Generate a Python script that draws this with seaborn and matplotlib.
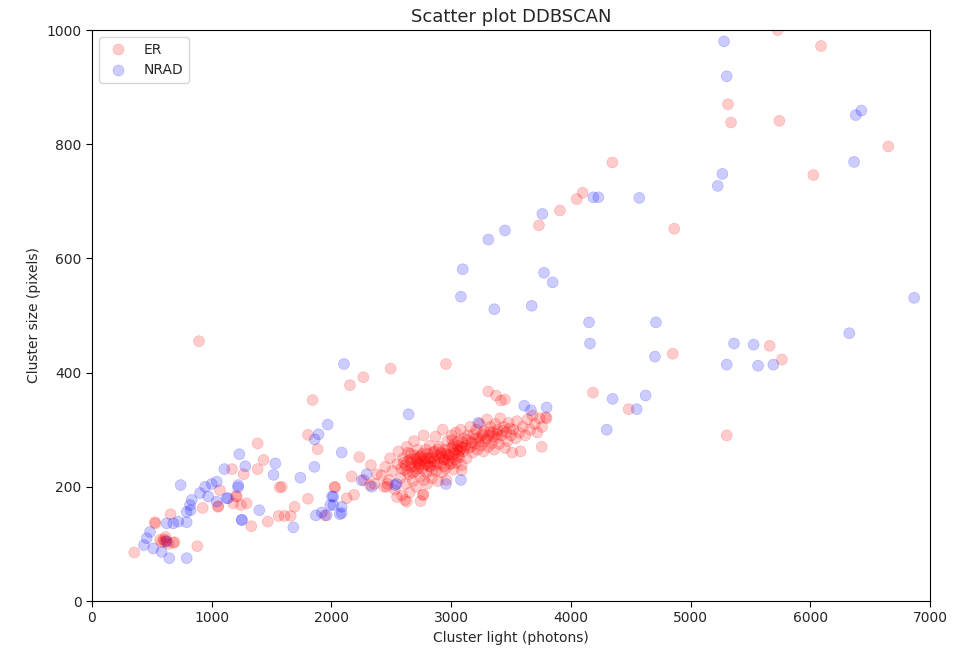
import matplotlib
matplotlib.use("Agg")
import matplotlib.pyplot as plt
import seaborn as sns
import pandas as pd

# ER points: light (photons)
er_x = [
    # low-left region
    353, 529, 657, 585, 620, 690, 568, 610, 679, 880, 925, 1055, 894, 526,
    1069, 1209, 1181, 1292, 1053, 1170, 1203, 1245, 1267, 1331, 1384, 1384, 1434,
    1468, 1559, 1568, 1585, 1609, 1660, 1693, 1804, 1804, 1843, 1885, 1946, 2027,
    2030, 2128, 2189, 2169, 2322, 2462, 2629, 2768, 2155, 2267, 2495, 2957, 2233,
    600, 640, 615,
    # dense cluster
    2420, 2450, 2470, 2490, 2510, 2530, 2550, 2560, 2575, 2590, 2600, 2610, 2620,
    2630, 2640, 2650, 2655, 2660, 2670, 2680, 2690, 2700, 2705, 2710, 2720, 2730,
    2740, 2745, 2750, 2760, 2770, 2775, 2780, 2790, 2795, 2800,
    2810, 2820, 2830, 2840, 2850, 2860, 2870, 2875, 2880, 2890, 2900, 2910, 2920,
    2925, 2930, 2940, 2950, 2955, 2960, 2970, 2980, 2990, 3000, 3005, 3010, 3020,
    3025, 3030, 3040, 3045, 3050, 3060, 3070, 3080, 3085, 3090, 3100, 3110, 3120,
    3130, 3140, 3150, 3160, 3170, 3180, 3190, 3200,
    3210, 3220, 3230, 3240, 3250, 3260, 3270, 3280, 3290, 3300, 3310, 3320, 3330,
    3340, 3350, 3360, 3370, 3380, 3390, 3400, 3410, 3420, 3440, 3450, 3460, 3470,
    3480, 3500, 3510, 3520, 3540, 3550, 3570, 3580, 3600, 3620, 3640, 3660, 3680,
    3700, 3720, 3740, 3760, 3790,
    2620, 2660, 2700, 2740, 2780, 2820, 2860, 2900, 2940, 2980, 3020, 3060, 3000,
    2960, 2640, 2680, 2720, 2760, 2800, 2840,
    2548, 2615, 2765, 3088, 2480, 2380, 2330, 2270, 2440, 2360,
    2665, 2695, 2725, 2755, 2785, 2815, 2845, 2885, 2915, 2945, 2975, 3015, 3035,
    3055, 3065, 3095, 3105, 3135, 3165, 3205, 3235, 3265, 3295, 3325, 3355, 3385,
    3430, 3490, 2585, 2605, 2635, 2715, 2735, 2805, 2835, 2865, 2895, 2935, 3010,
    3075,
    # upper / right
    3757, 3798, 3310, 3375, 3416, 3450, 4347, 4099, 4049, 3909, 3734, 4864, 4851,
    5661, 5764, 4185, 4483, 5302, 5728, 6090, 5313, 5338, 5742, 6652, 6026,
]
# ER points: size (pixels)
er_y = [
    85, 136, 152, 103, 106, 103, 107, 104, 102, 96, 163, 166, 455, 138,
    194, 183, 171, 171, 165, 231, 184, 168, 222, 131, 276, 231, 247,
    139, 149, 199, 200, 149, 149, 165, 291, 179, 352, 266, 150, 200,
    199, 180, 186, 218, 203, 200, 174, 186, 378, 392, 407, 415, 252,
    108, 100, 112,
    220, 235, 205, 250, 228, 195, 240, 262, 215, 185, 250, 230, 205,
    270, 245, 222, 190, 258, 235, 210, 280, 248, 228, 200, 265, 240,
    218, 175, 255, 232, 290, 212, 245, 265, 225, 205,
    250, 272, 235, 215, 260, 245, 288, 228, 255, 210, 270, 240, 258,
    225, 300, 248, 265, 232, 212, 280, 255, 240, 268, 290, 250, 230,
    275, 258, 295, 242, 265, 280, 252, 300, 270, 238, 262, 285, 272,
    250, 290, 268, 305, 278, 260, 292, 275,
    300, 265, 285, 310, 272, 292, 262, 298, 280, 318, 270, 290, 305,
    276, 295, 265, 310, 285, 300, 275, 320, 290, 305, 268, 295, 280,
    312, 290, 260, 300, 285, 315, 295, 262, 305, 290, 318, 300, 325,
    310, 295, 320, 305, 322,
    238, 248, 236, 252, 238, 244, 262, 250, 236, 246, 262, 255, 240,
    258, 260, 225, 250, 258, 240, 228,
    182, 177, 186, 229, 212, 222, 238, 212, 200, 205,
    242, 255, 232, 246, 250, 236, 252, 242, 260, 248, 256, 270, 248,
    272, 262, 278, 268, 282, 270, 285, 280, 290, 284, 296, 288, 292,
    298, 302, 232, 242, 226, 244, 238, 258, 250, 238, 266, 252, 282,
    265,
    270, 320, 367, 360, 351, 353, 768, 715, 704, 684, 658, 652, 433,
    447, 423, 365, 336, 290, 1000, 972, 870, 838, 841, 796, 746,
]

# NRAD points: light (photons)
nrad_x = [
    485, 457, 434, 512, 582, 646, 791, 624, 624, 679, 721, 791, 741, 902, 945,
    1000, 1042, 971, 1042, 1125, 1222, 833, 819, 791, 824, 1250, 1106, 1231,
    1281, 1220, 1136, 1398, 1253, 1682, 1532, 1517, 1741, 1858, 1969, 1893,
    1860, 2005, 1991, 1870, 1920, 1960, 2070, 2016, 2016, 2086, 2086, 2086,
    2105, 2295, 2253, 2337, 2545, 2531, 2645, 2957, 3082, 3227, 3611, 3667, 3798,
    3097, 3082, 3361, 3311, 3450, 3762, 3776, 3848, 3673, 4188, 4230, 4572,
    4152, 4711, 4160, 4703, 4349, 4625, 4550, 4300, 5363, 5527, 5302, 5564,
    5692, 6326, 6868, 5227, 5266, 6366, 6380, 6427, 5302, 5280,
]
# NRAD points: size (pixels)
nrad_y = [
    121, 110, 98, 92, 86, 75, 75, 104, 136, 136, 139, 138, 203, 189, 200,
    205, 209, 183, 174, 180, 203, 177, 168, 156, 159, 142, 231, 257,
    236, 199, 180, 159, 142, 129, 241, 221, 216, 235, 309, 292,
    283, 183, 168, 150, 155, 150, 152, 183, 168, 165, 154, 260,
    415, 222, 211, 200, 205, 203, 327, 205, 212, 312, 342, 334, 339,
    581, 533, 511, 633, 649, 678, 575, 558, 517, 707, 707, 706,
    488, 488, 451, 428, 354, 360, 336, 300, 451, 449, 414, 412,
    414, 469, 531, 727, 748, 769, 851, 859, 919, 980,
]

df = pd.DataFrame({
    "light": er_x + nrad_x,
    "size": er_y + nrad_y,
    "type": ["ER"] * len(er_x) + ["NRAD"] * len(nrad_x),
})

sns.set_style("white")
plt.rcParams["font.family"] = ["DejaVu Sans"]

fig = plt.figure(figsize=(9.54, 6.51), dpi=100)
ax = fig.add_axes([0.0964, 0.0768, 0.8784, 0.8771])

sns.scatterplot(
    data=df, x="light", y="size", hue="type",
    palette={"ER": "red", "NRAD": "blue"},
    alpha=0.2, s=62, edgecolor="face", linewidth=0.5, ax=ax,
)

ax.set_xlim(0, 7000)
ax.set_ylim(0, 1000)
ax.set_xticks(range(0, 7001, 1000))
ax.set_yticks(range(0, 1001, 200))
ax.tick_params(axis="both", direction="out", length=4, width=0.8, labelsize=10,
               bottom=True, left=True, color="black")
for sp in ax.spines.values():
    sp.set_color("black")
    sp.set_linewidth(0.8)

ax.set_title("Scatter plot DDBSCAN", fontsize=13)
ax.set_xlabel("Cluster light (photons)", fontsize=10)
ax.set_ylabel("Cluster size (pixels)", fontsize=10)

leg = ax.legend(loc="upper left", fontsize=10, frameon=True)
leg.get_frame().set_edgecolor("#cccccc")

fig.savefig("out.png", dpi=100)
